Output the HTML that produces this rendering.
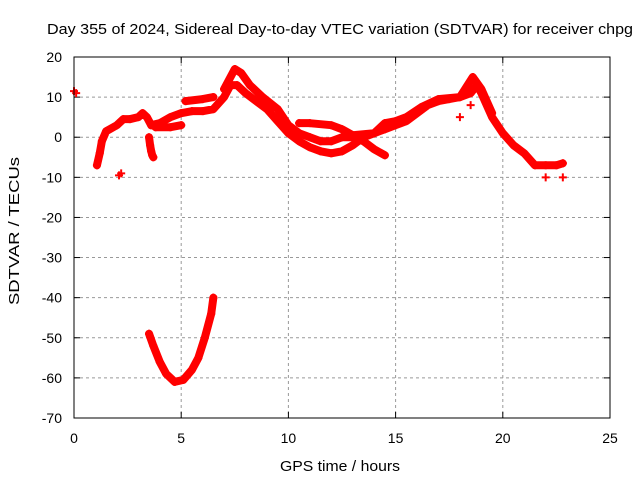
<!DOCTYPE html>
<html><head><meta charset="utf-8"><style>
body{margin:0;background:#fff}
svg{display:block;font-family:"Liberation Sans",sans-serif}
</style></head><body>
<svg id="c" width="640" height="480">
<rect width="640" height="480" fill="#fff"/>
<text x="47" y="34" font-size="15" textLength="586" lengthAdjust="spacingAndGlyphs">Day 355 of 2024, Sidereal Day-to-day VTEC variation (SDTVAR) for receiver chpg</text>
<text x="280" y="471" font-size="15" textLength="120" lengthAdjust="spacingAndGlyphs">GPS time / hours</text>
<text transform="translate(19,305) rotate(-90)" font-size="15" textLength="148" lengthAdjust="spacingAndGlyphs">SDTVAR / TECUs</text>
<g id="grid"></g><g id="marks"></g>
<rect x="74" y="57" width="536" height="361" fill="none" stroke="#000" stroke-width="1"/>
</svg>
<script>
const xTicks=[0,5,10,15,20,25];
const yTicks=[20,10,0,-10,-20,-30,-40,-50,-60,-70];
const sMainH=[1.07,1.2,1.3,1.5,2,2.3,2.6,3,3.2,3.4,3.6,4,4.5,5,5.5,6,6.5,7,7.3,7.6,8,8.5,9,9.5,10,10.5,11,11.5,12,12.5,13,13.5,14,14.5,15,15.5,16,16.5,17,17.5,18,18.5,18.8,19,19.5,20,20.5,21,21.5,22,22.5,22.8];
const sMainV=[-7,-4,-1,1.5,3,4.5,4.5,5,6,5,3,3.5,5,6,6.5,6.5,7,10,13,13,11,9,7,4,1,-1,-2.5,-3.5,-4,-3.5,-2,0,1,2,3,4,6,8,9,9.5,10,11,13,11,5,1,-2,-4,-7,-7,-7,-6.5];
const sUpperH=[7,7.5,7.8,8.2,8.8,9.5,10,10.5,11,11.5,12,12.5,13,13.5,14,14.5];
const sUpperV=[12,17,16,13,10,7,3,1,0,-1,-1,0,0,-1,-3,-4.5];
const sBranchH=[10.5,11,12,12.5,13,14,14.5,15,15.5,16.2,17,18,18.6,19,19.5];
const sBranchV=[3.5,3.5,3,2,0.5,1,3.5,4,5,7.5,9.5,10,15,12,6];
const sMorningH=[5.2,6,6.5];
const sMorningV=[9,9.5,10];
const sLowH=[3.8,4.5,5];
const sLowV=[2.5,2.5,3];
const sSpikeH=[3.5,3.55,3.6,3.65,3.7];
const sSpikeV=[0,-2,-3.5,-4.5,-5];
const sIsoH=[0,0.1,2.1,2.2,22,22.8,18,18.5];
const sIsoV=[11.5,11,-9.5,-9,-10,-10,5,8];
const sDipH=[3.5,3.7,4,4.3,4.7,5.1,5.5,5.8,6.1,6.4,6.5];
const sDipV=[-49,-52,-56,-59,-61,-60.5,-58,-55,-50,-44,-40];
const X=h=>74+h*536/25, Y=v=>57+(20-v)*361/90;
const NS="http://www.w3.org/2000/svg";
const g=document.getElementById('grid'), m=document.getElementById('marks');
function mk(t,a,p){const e=document.createElementNS(NS,t);for(const k in a)e.setAttribute(k,a[k]);p.appendChild(e);return e;}
xTicks.forEach(t=>{const x=X(t);
 if(t>0&&t<25){const l=mk('line',{x1:x,x2:x,y1:57,y2:418,stroke:'#999','stroke-dasharray':'3,3'},g);
 
 }
 mk('line',{x1:x,x2:x,y1:418,y2:412,stroke:'#000'},g);mk('line',{x1:x,x2:x,y1:57,y2:63,stroke:'#000'},g);
 const tx=mk('text',{x:x,y:443,'font-size':14,'text-anchor':'middle'},g);tx.textContent=t;
 
 });
yTicks.forEach(t=>{const y=Y(t);
 if(t<20&&t>-70){const l=mk('line',{x1:74,x2:610,y1:y,y2:y,stroke:'#999','stroke-dasharray':'3,3'},g);
 
 }
 mk('line',{x1:74,x2:80,y1:y,y2:y,stroke:'#000'},g);mk('line',{x1:610,x2:604,y1:y,y2:y,stroke:'#000'},g);
 const tx=mk('text',{x:62,y:y+5,'font-size':14,'text-anchor':'end'},g);tx.textContent=t;
 
 });
function series(H,V,name,line){
 if(line){const pl=mk('polyline',{points:H.map((h,i)=>X(h)+','+Y(V[i])).join(' '),fill:'none',stroke:'#f00','stroke-width':8,'stroke-linejoin':'round','stroke-linecap':'round'},m);
 
 }
 H.forEach((h,i)=>{const x=X(h),y=Y(V[i]);
 const p=mk('path',{d:`M${x-4} ${y}H${x+4}M${x} ${y-4}V${y+4}`,stroke:'#f00','stroke-width':2},m);
 
 });
}
series(sMainH,sMainV,'main',true);
series(sUpperH,sUpperV,'upper',true);
series(sBranchH,sBranchV,'branch',true);
series(sMorningH,sMorningV,'morning',true);
series(sLowH,sLowV,'low',true);
series(sSpikeH,sSpikeV,'spike',true);
series(sIsoH,sIsoV,'isolated',false);
series(sDipH,sDipV,'dip',true);
</script>
</body></html>
